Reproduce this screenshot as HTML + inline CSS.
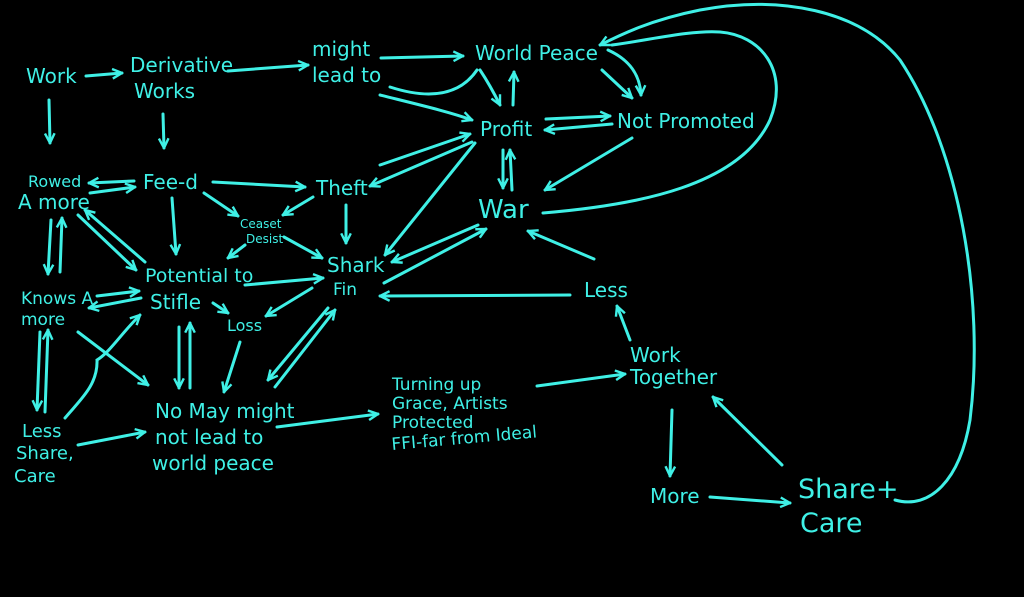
<!DOCTYPE html>
<html><head><style>
html,body{margin:0;padding:0;background:#000;}
svg{display:block;}
text{font-family:"DejaVu Sans","Liberation Sans",sans-serif;fill:#3ff0e6;}
</style></head><body>
<svg width="1024" height="597" viewBox="0 0 1024 597" xmlns="http://www.w3.org/2000/svg">
<defs>
<marker id="a" viewBox="0 0 10 10" refX="9" refY="5" markerWidth="4" markerHeight="4" orient="auto" markerUnits="strokeWidth">
<path d="M1,1 L9,5 L1,9" fill="none" stroke="#3ff0e6" stroke-width="2"/>
</marker>
</defs>
<rect width="1024" height="597" fill="#000"/>
<g stroke="#3ff0e6" stroke-width="3" fill="none" stroke-linecap="round" marker-end="url(#a)">
<!-- top row -->
<line x1="86" y1="76" x2="122" y2="73"/>
<line x1="228" y1="71" x2="308" y2="65"/>
<line x1="381" y1="58" x2="463" y2="56"/>
<path d="M390,87 C430,100 460,95 477,70" marker-end="none"/>
<path d="M480,70 C490,85 495,95 500,105"/>
<path d="M380,95 C420,105 450,112 472,120"/>
<line x1="513" y1="105" x2="514" y2="72"/>
<line x1="602" y1="70" x2="632" y2="98"/>
<path d="M608,50 C630,60 640,75 641,95"/>
<line x1="546" y1="119" x2="610" y2="116"/>
<line x1="612" y1="124" x2="545" y2="130"/>
<line x1="503" y1="150" x2="503" y2="188"/>
<line x1="512" y1="190" x2="510" y2="150"/>
<line x1="632" y1="138" x2="545" y2="190"/>
<path d="M543,213 C640,205 740,185 770,120 C790,70 760,35 720,32 C690,30 650,40 612,45" marker-end="none"/>
<path d="M895,500 C930,510 960,480 970,420 C985,300 960,150 900,60 C860,10 780,-5 700,10 C650,20 620,35 600,45"/>
<!-- verticals left -->
<line x1="49" y1="100" x2="50" y2="143"/>
<line x1="163" y1="114" x2="164" y2="148"/>
<line x1="134" y1="181" x2="89" y2="183"/>
<line x1="90" y1="193" x2="135" y2="187"/>
<line x1="213" y1="182" x2="305" y2="187"/>
<line x1="204" y1="193" x2="238" y2="216"/>
<line x1="313" y1="197" x2="283" y2="215"/>
<line x1="172" y1="198" x2="176" y2="254"/>
<line x1="346" y1="205" x2="346" y2="243"/>
<line x1="284" y1="237" x2="322" y2="258"/>
<line x1="245" y1="245" x2="228" y2="258"/>
<line x1="51" y1="220" x2="48" y2="274"/>
<line x1="60" y1="272" x2="62" y2="218"/>
<line x1="78" y1="215" x2="136" y2="270"/>
<line x1="145" y1="262" x2="85" y2="210"/>
<line x1="97" y1="296" x2="139" y2="291"/>
<line x1="141" y1="298" x2="89" y2="308"/>
<line x1="245" y1="285" x2="323" y2="278"/>
<line x1="213" y1="303" x2="228" y2="313"/>
<line x1="312" y1="288" x2="266" y2="316"/>
<line x1="380" y1="165" x2="470" y2="134"/>
<line x1="472" y1="142" x2="370" y2="186"/>
<line x1="475" y1="143" x2="385" y2="255"/>
<line x1="478" y1="225" x2="392" y2="262"/>
<line x1="384" y1="283" x2="486" y2="229"/>
<line x1="594" y1="259" x2="528" y2="231"/>
<line x1="570" y1="295" x2="380" y2="296"/>
<line x1="179" y1="327" x2="179" y2="388"/>
<line x1="190" y1="388" x2="190" y2="323"/>
<line x1="240" y1="342" x2="224" y2="392"/>
<line x1="328" y1="308" x2="268" y2="380"/>
<line x1="275" y1="387" x2="335" y2="310"/>
<line x1="78" y1="332" x2="148" y2="385"/>
<path d="M65,418 C80,400 98,385 97,360 C110,352 120,335 140,315"/>
<line x1="40" y1="332" x2="37" y2="410"/>
<line x1="45" y1="412" x2="48" y2="330"/>
<line x1="78" y1="445" x2="145" y2="432"/>
<line x1="277" y1="427" x2="378" y2="414"/>
<line x1="537" y1="386" x2="625" y2="374"/>
<line x1="630" y1="340" x2="617" y2="306"/>
<line x1="672" y1="410" x2="670" y2="476"/>
<line x1="710" y1="497" x2="790" y2="503"/>
<line x1="782" y1="465" x2="713" y2="397"/>
</g>
<g font-size="20">
<text x="26" y="83">Work</text>
<text x="130" y="72">Derivative</text>
<text x="134" y="98">Works</text>
<text x="312" y="56">might</text>
<text x="312" y="82">lead to</text>
<text x="475" y="60">World Peace</text>
<text x="480" y="136">Profit</text>
<text x="617" y="128">Not Promoted</text>
<text x="478" y="218" font-size="26">War</text>
<text x="28" y="187" font-size="16">Rowed</text>
<text x="18" y="209">A more</text>
<text x="143" y="189">Fee-d</text>
<text x="316" y="195">Theft</text>
<text x="240" y="228" font-size="12">Ceaset</text>
<text x="246" y="243" font-size="12">Desist</text>
<text x="327" y="272">Shark</text>
<text x="333" y="295" font-size="17">Fin</text>
<text x="145" y="282" font-size="19">Potential to</text>
<text x="150" y="309">Stifle</text>
<text x="21" y="304" font-size="17">Knows A</text>
<text x="21" y="325" font-size="17">more</text>
<text x="227" y="331" font-size="16">Loss</text>
<text x="584" y="297">Less</text>
<text x="630" y="362">Work</text>
<text x="630" y="384">Together</text>
<text x="392" y="390" font-size="17">Turning up</text>
<text x="392" y="409" font-size="17">Grace, Artists</text>
<text x="392" y="428" font-size="17">Protected</text>
<text x="392" y="450" font-size="17" transform="rotate(-5 392 450)">FFI-far from Ideal</text>
<text x="155" y="418">No May might</text>
<text x="155" y="444">not lead to</text>
<text x="152" y="470">world peace</text>
<text x="22" y="437" font-size="18">Less</text>
<text x="16" y="459" font-size="18">Share,</text>
<text x="14" y="482" font-size="18">Care</text>
<text x="650" y="503">More</text>
<text x="798" y="498" font-size="27">Share+</text>
<text x="800" y="532" font-size="27">Care</text>
</g>
</svg>
</body></html>
